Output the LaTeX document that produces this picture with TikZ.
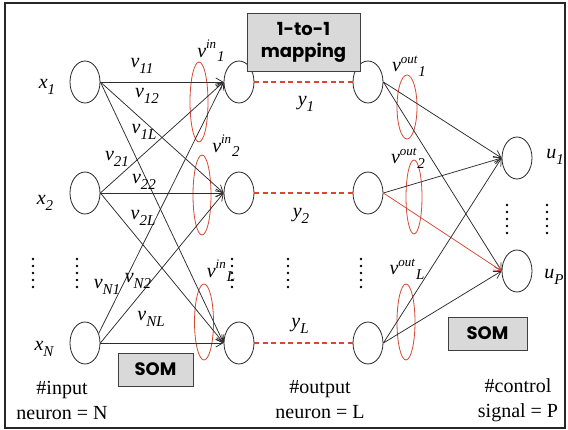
\documentclass[tikz,border=0pt]{standalone}
\usepackage{fontspec}
\setmainfont{Liberation Serif}
\newfontfamily\boxfont{Poppins}
\usetikzlibrary{shapes.geometric,arrows.meta}
\definecolor{ringred}{RGB}{215,72,50}
\definecolor{boxgray}{RGB}{217,217,217}
\definecolor{linegray}{RGB}{45,45,45}
% italic symbol with subscript
\newcommand{\isub}[2]{\textit{#1}\raisebox{-0.28em}{\fontsize{15}{15}\selectfont\itshape #2}}
% weight with superscript tag followed by index
\newcommand{\wsup}[2]{\textit{v}\raisebox{0.42em}{\fontsize{13}{13}\selectfont\itshape #1}\kern1pt\raisebox{-0.22em}{\fontsize{15}{15}\selectfont\itshape #2}}
\begin{document}
\begin{tikzpicture}[x=1pt,y=-1pt,
  neuron/.style={ellipse, draw=black!85, line width=0.8pt, minimum width=30pt, minimum height=42pt, inner sep=0pt},
  ring/.style={ellipse, draw=ringred, line width=0.8pt, inner sep=0pt},
  conn/.style={draw=linegray, line width=0.75pt, -{Straight Barb[length=7pt,width=8pt]}},
  redconn/.style={draw=ringred, line width=0.75pt, -{Straight Barb[length=7pt,width=8pt]}},
  link/.style={draw=ringred, line width=1.3pt, dash pattern=on 5pt off 3.5pt},
  lbl/.style={font=\fontsize{20}{22}\selectfont, inner sep=0pt},
  tagbox/.style={draw=black!75, fill=boxgray, line width=0.8pt, font=\boxfont\bfseries\fontsize{18}{22}\selectfont, align=center, inner sep=0pt},
  caption/.style={font=\fontsize{20}{25}\selectfont, align=center, inner sep=0pt},
  dotcol/.style={fill=black, draw=none, circle, minimum size=2.6pt, inner sep=0pt}]

\useasboundingbox (0,0) rectangle (568,430);
\fill[white] (0,0) rectangle (568,430);
\draw[line width=1.6pt, draw=black!85] (5,3) rectangle (565,428);

% input layer
\node[neuron] (x1) at (85,82) {};
\node[neuron] (x2) at (85,193) {};
\node[neuron] (xN) at (85,343) {};
% hidden layer
\node[neuron] (h1) at (239,82) {};
\node[neuron] (h2) at (239,193) {};
\node[neuron] (hL) at (239,343) {};
% output layer
\node[neuron] (o1) at (368,82) {};
\node[neuron] (o2) at (368,193) {};
\node[neuron] (oL) at (368,343) {};
% control layer
\node[neuron] (u1) at (517,158) {};
\node[neuron] (uP) at (517,271) {};

% weight groups
\node[ring, minimum width=18pt, minimum height=80pt] (rin1) at (199,102) {};
\node[ring, minimum width=18pt, minimum height=80pt] (rin2) at (202,195) {};
\node[ring, minimum width=19pt, minimum height=76pt] (rinL) at (204,322) {};
\node[ring, minimum width=20pt, minimum height=64pt] (rout1) at (407,107) {};
\node[ring, minimum width=16pt, minimum height=74pt] (rout2) at (414,197) {};
\node[ring, minimum width=18pt, minimum height=76pt] (routL) at (406,322) {};

% input to hidden connections
\draw[conn] (x1.east) -- (h1.west);
\draw[conn] (x1.east) -- (h2.west);
\draw[conn] (x1.east) -- (hL.west);
\draw[conn] (x2.east) -- (h1.west);
\draw[conn] (x2.east) -- (h2.west);
\draw[conn] (x2.east) -- (hL.west);
\draw[conn] (xN.35) -- (h1.west);
\draw[conn] (xN.east) -- (h2.west);
\draw[conn] (xN.east) -- (hL.west);

% one-to-one mapping
\draw[link] (h1.east) -- (o1.west);
\draw[link] (h2.east) -- (o2.west);
\draw[link] (hL.east) -- (oL.west);

% output to control connections
\draw[conn] (o1.east) -- (u1.west);
\draw[conn] (o1.east) -- (uP.west);
\draw[conn] (o2.east) -- (u1.west);
\draw[redconn] (o2.east) -- (uP.west);
\draw[conn] (oL.east) -- (u1.west);
\draw[conn] (oL.east) -- (uP.west);

% neuron labels
\node[lbl] (lx1) at (47,87) {\isub{x}{1}};
\node[lbl] (lx2) at (45,203) {\isub{x}{2}};
\node[lbl] (lxN) at (44,349) {\isub{x}{N}};
\node[lbl] (ly1) at (306,104) {\isub{y}{1}};
\node[lbl] (ly2) at (301,216) {\isub{y}{2}};
\node[lbl] (lyL) at (300,326) {\isub{y}{L}};
\node[lbl] (lu1) at (555,157) {\isub{u}{1}};
\node[lbl] (luP) at (554,277) {\isub{u}{P}};

% weight labels
\node[lbl] (lv11) at (142,66) {\isub{v}{11}};
\node[lbl] (lv12) at (147,96) {\isub{v}{12}};
\node[lbl] (lv1L) at (144,132) {\isub{v}{1L}};
\node[lbl] (lv21) at (117,159) {\isub{v}{21}};
\node[lbl] (lv22) at (144,182) {\isub{v}{22}};
\node[lbl] (lv2L) at (143,218) {\isub{v}{2L}};
\node[lbl] (lvN1) at (107,287) {\isub{v}{N1}};
\node[lbl] (lvN2) at (138,281) {\isub{v}{N2}};
\node[lbl] (lvNL) at (151,319) {\isub{v}{NL}};
\node[lbl] (lin1) at (211,51) {\wsup{in}{1}};
\node[lbl] (lin2) at (226,146) {\wsup{in}{2}};
\node[lbl] (linL) at (221,271) {\wsup{in}{L}};
\node[lbl] (lout1) at (409,66) {\wsup{out}{1}};
\node[lbl] (lout2) at (408,158) {\wsup{out}{2}};
\node[lbl] (loutL) at (407,269) {\wsup{out}{L}};

% ellipsis dots
\foreach \cx in {33,77,232,288,361} {
  \foreach \cy in {259,266,273,280,287} {
    \node[dotcol] at (\cx,\cy) {};
  }
}
\foreach \cx in {507,547} {
  \foreach \cy in {205,212,219,226,233} {
    \node[dotcol] at (\cx,\cy) {};
  }
}

% tag boxes
\node[tagbox, minimum width=113pt, minimum height=58pt] (map) at (303.5,42) {1-to-1\\mapping};
\node[tagbox, minimum width=75pt, minimum height=33pt] (som1) at (155.5,369.5) {SOM};
\node[tagbox, minimum width=79pt, minimum height=33pt] (som2) at (487.5,333.5) {SOM};

% layer captions
\node[caption] (capin) at (62,400) {\#input\\neuron = N};
\node[caption] (capout) at (320,400) {\#output\\neuron = L};
\node[caption] (capctl) at (518,400) {\#control\\signal = P};
\end{tikzpicture}
\end{document}
